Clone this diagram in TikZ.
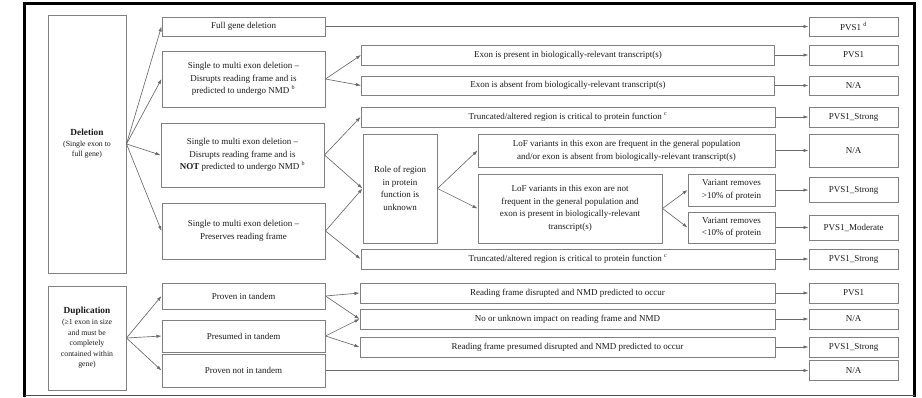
\documentclass[tikz,border=0pt]{standalone}
\usepackage{fontspec}
\setmainfont{Liberation Serif}
\usetikzlibrary{arrows.meta}
\definecolor{boxgray}{HTML}{808080}
\definecolor{linegray}{HTML}{6A6A6A}
\definecolor{txtgray}{HTML}{1A1A1A}
\newcommand{\fnmark}[1]{~\textsuperscript{#1}}
\begin{document}
\begin{tikzpicture}[x=1pt,y=-1pt,
    box/.style={draw=boxgray, line width=1pt, inner sep=0pt, align=center,
      text=txtgray, font=\fontsize{9}{12.6}\selectfont},
    small/.style={font=\fontsize{7.8}{10.6}\selectfont},
    arr/.style={draw=linegray, line width=0.65pt, -{Latex[length=5pt,width=3.4pt]}}]
          \useasboundingbox (0,0) rectangle (922,397);
          \draw [line width=3pt] (24.5,397) -- (24.5,3.5) -- (914.5,3.5) -- (914.5,397);
          \draw [line width=1.5pt, black!70] (24.5,395.5) -- (914.5,395.5);
          % first column
          \node [box, small, minimum width=78, minimum height=258] (del) at (87,144)
            {{\fontsize{9.3}{11}\selectfont\bfseries Deletion}\\(Single exon to\\full gene)};
          \node [box, small, minimum width=78, minimum height=104] (dup) at (87,338)
            {{\fontsize{9.3}{11}\selectfont\bfseries Duplication}\\(≥1 exon in size\\and must be\\completely\\contained within\\gene)};
          % second column
          \node [box, minimum width=163, minimum height=19] (fgd) at (243.5,26.5) {Full gene deletion};
          \node [box, minimum width=163, minimum height=56] (nmd) at (243.5,79)
            {Single to multi exon deletion –\\Disrupts reading frame and is\\predicted to undergo NMD\fnmark{b}};
          \node [box, minimum width=163, minimum height=64] (notnmd) at (242.5,155)
            {Single to multi exon deletion –\\Disrupts reading frame and is\\\textbf{NOT} predicted to undergo NMD\fnmark{b}};
          \node [box, minimum width=163, minimum height=56] (pres) at (243.5,231)
            {Single to multi exon deletion –\\Preserves reading frame};
          \node [box, minimum width=163, minimum height=26] (pit) at (243.5,296) {Proven in tandem};
          \node [box, minimum width=163, minimum height=32] (prt) at (243.5,336) {Presumed in tandem};
          \node [box, minimum width=163, minimum height=33] (pnt) at (243.5,370.5) {Proven not in tandem};
          % third column
          \node [box, minimum width=413, minimum height=20] (expres) at (568,55)
            {Exon is present in biologically-relevant transcript(s)};
          \node [box, minimum width=413, minimum height=19] (exabs) at (568,85.5)
            {Exon is absent from biologically-relevant transcript(s)};
          \node [box, minimum width=414, minimum height=20] (trunca) at (568,117)
            {Truncated/altered region is critical to protein function\fnmark{c}};
          \node [box, minimum width=74, minimum height=109] (role) at (400,188.5)
            {Role of region\\in protein\\function is\\unknown};
          \node [box, minimum width=297, minimum height=33] (lofa) at (626.5,150.5)
            {LoF variants in this exon are frequent in the general population\\and/or exon is absent from biologically-relevant transcript(s)};
          \node [box, minimum width=184, minimum height=69] (lofb) at (570,208.5)
            {LoF variants in this exon are not\\frequent in the general population and\\exon is present in biologically-relevant\\transcript(s)};
          \node [box, minimum width=87, minimum height=32] (vgt) at (731.5,190)
            {Variant removes\\>10\% of protein};
          \node [box, minimum width=87, minimum height=31] (vlt) at (731.5,227.5)
            {Variant removes\\<10\% of protein};
          \node [box, minimum width=414, minimum height=20] (truncb) at (568,259)
            {Truncated/altered region is critical to protein function\fnmark{c}};
          \node [box, minimum width=415, minimum height=20] (rfd) at (567.5,293)
            {Reading frame disrupted and NMD predicted to occur};
          \node [box, minimum width=415, minimum height=20] (nou) at (567.5,319)
            {No or unknown impact on reading frame and NMD};
          \node [box, minimum width=415, minimum height=20] (rfp) at (567.5,347)
            {Reading frame presumed disrupted and NMD predicted to occur};
          % results
          \node [box, minimum width=89, minimum height=19] (ra) at (853.5,26.5) {PVS1\fnmark{d}};
          \node [box, minimum width=89, minimum height=20] (rb) at (853.5,55) {PVS1};
          \node [box, minimum width=89, minimum height=19] (rc) at (853.5,85.5) {N/A};
          \node [box, minimum width=89, minimum height=20] (rd) at (853.5,117) {PVS1\_Strong};
          \node [box, minimum width=89, minimum height=33] (re) at (853.5,150.5) {N/A};
          \node [box, minimum width=89, minimum height=25] (rf) at (853.5,190) {PVS1\_Strong};
          \node [box, minimum width=89, minimum height=25] (rg) at (853.5,227.5) {PVS1\_Moderate};
          \node [box, minimum width=89, minimum height=20] (rh) at (853.5,259) {PVS1\_Strong};
          \node [box, minimum width=89, minimum height=20] (ri) at (853.5,293) {PVS1};
          \node [box, minimum width=89, minimum height=20] (rj) at (853.5,319) {N/A};
          \node [box, minimum width=89, minimum height=20] (rk) at (853.5,347) {PVS1\_Strong};
          \node [box, minimum width=89, minimum height=20] (rl) at (853.5,370.5) {N/A};
          % deletion arrows
          \draw [arr] (del.east) -- (fgd.west);
          \draw [arr] (del.east) -- (nmd.west);
          \draw [arr] (del.east) -- (notnmd.west);
          \draw [arr] (del.east) -- (pres.west);
          \draw [arr] (nmd.east) -- (expres.west);
          \draw [arr] (nmd.east) -- (exabs.west);
          \draw [arr] (notnmd.east) -- (trunca.west);
          \draw [arr] (notnmd.east) -- (role.west);
          \draw [arr] (pres.east) -- (role.west);
          \draw [arr] (pres.east) -- (truncb.west);
          \draw [arr] (role.east) -- (lofa.west);
          \draw [arr] (role.east) -- (lofb.west);
          \draw [arr] (lofb.east) -- (vgt.west);
          \draw [arr] (lofb.east) -- (vlt.west);
          \draw [arr] (fgd.east) -- (ra.west);
          \draw [arr] (expres.east) -- (rb.west);
          \draw [arr] (exabs.east) -- (rc.west);
          \draw [arr] (trunca.east) -- (rd.west);
          \draw [arr] (lofa.east) -- (re.west);
          \draw [arr] (vgt.east) -- (rf.west);
          \draw [arr] (vlt.east) -- (rg.west);
          \draw [arr] (truncb.east) -- (rh.west);
          % duplication arrows
          \draw [arr] (dup.east) -- (pit.west);
          \draw [arr] (dup.east) -- (prt.west);
          \draw [arr] (dup.east) -- (pnt.west);
          \draw [arr] (pit.east) -- (rfd.west);
          \draw [arr] (pit.east) -- (nou.west);
          \draw [arr] (prt.east) -- (nou.west);
          \draw [arr] (prt.east) -- (rfp.west);
          \draw [arr] (rfd.east) -- (ri.west);
          \draw [arr] (nou.east) -- (rj.west);
          \draw [arr] (rfp.east) -- (rk.west);
          \draw [arr] (pnt.east) -- (rl.west);
        \end{tikzpicture}
\end{document}
